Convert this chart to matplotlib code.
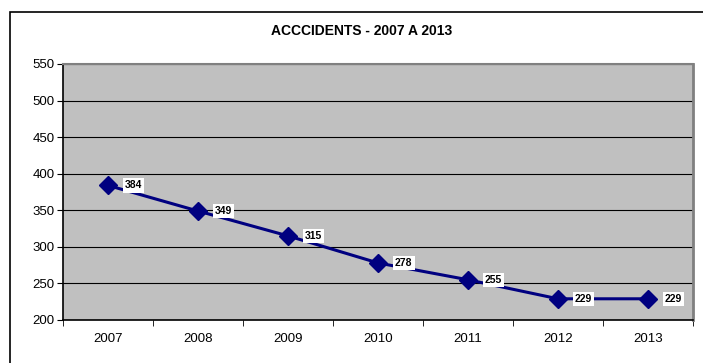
import matplotlib
matplotlib.use('Agg')
import matplotlib.pyplot as plt
from matplotlib.patches import Rectangle

plt.rcParams['font.family'] = ['Liberation Sans', 'DejaVu Sans']

years = ['2007', '2008', '2009', '2010', '2011', '2012', '2013']
accidents = [384, 349, 315, 278, 255, 229, 229]
y_ticks = [200, 250, 300, 350, 400, 450, 500, 550]

fig = plt.figure(figsize=(7.03, 3.63), dpi=100)
fig.patch.set_facecolor('white')

# outer chart border (runs off the right and bottom edges)
fig.patches.append(Rectangle((10 / 703, -0.1), 1.2, 1 - 12 / 363 + 0.1,
                             transform=fig.transFigure, fill=False,
                             edgecolor='black', linewidth=1.2))

ax = fig.add_axes([63 / 703, 43 / 363, 630 / 703, 256 / 363])
ax.set_facecolor('#C0C0C0')

x = list(range(len(years)))
ax.plot(x, accidents, color='#000080', linewidth=2.2, marker='D',
        markersize=9, markerfacecolor='#000080', markeredgecolor='#000080',
        zorder=3)

for xi, v in zip(x, accidents):
    ax.annotate(str(v), (xi, v), xytext=(17, 0), textcoords='offset pixels',
                ha='left', va='center', fontsize=7.5, fontweight='bold',
                bbox=dict(boxstyle='square,pad=0.2', facecolor='white',
                          edgecolor='none'), zorder=4)

ax.set_xlim(-0.5, len(years) - 0.5)
ax.set_ylim(200, 550)
ax.set_yticks(y_ticks)
ax.set_yticklabels([str(t) for t in y_ticks], fontsize=9.5)
ax.yaxis.grid(True, color='black', linewidth=0.8)
ax.set_axisbelow(True)

ax.set_xticks(x)
ax.set_xticklabels(years, fontsize=9.5)
ax.set_xticks([i + 0.5 for i in range(-1, len(years))], minor=True)
ax.tick_params(axis='x', which='major', length=0, pad=9)
ax.tick_params(axis='x', which='minor', length=4, direction='out')
ax.tick_params(axis='y', length=4, direction='out', pad=2)

ax.spines['left'].set_color('black')
ax.spines['bottom'].set_color('black')
ax.spines['left'].set_linewidth(1.2)
ax.spines['bottom'].set_linewidth(1.2)
ax.spines['top'].set_color('#808080')
ax.spines['right'].set_color('#808080')
ax.spines['top'].set_linewidth(1.5)
ax.spines['right'].set_linewidth(2)

fig.text(362 / 703, 1 - 31 / 363, 'ACCCIDENTS - 2007 A 2013', ha='center',
         va='center', fontsize=10, fontweight='bold')

fig.savefig('out.png', dpi=100)
